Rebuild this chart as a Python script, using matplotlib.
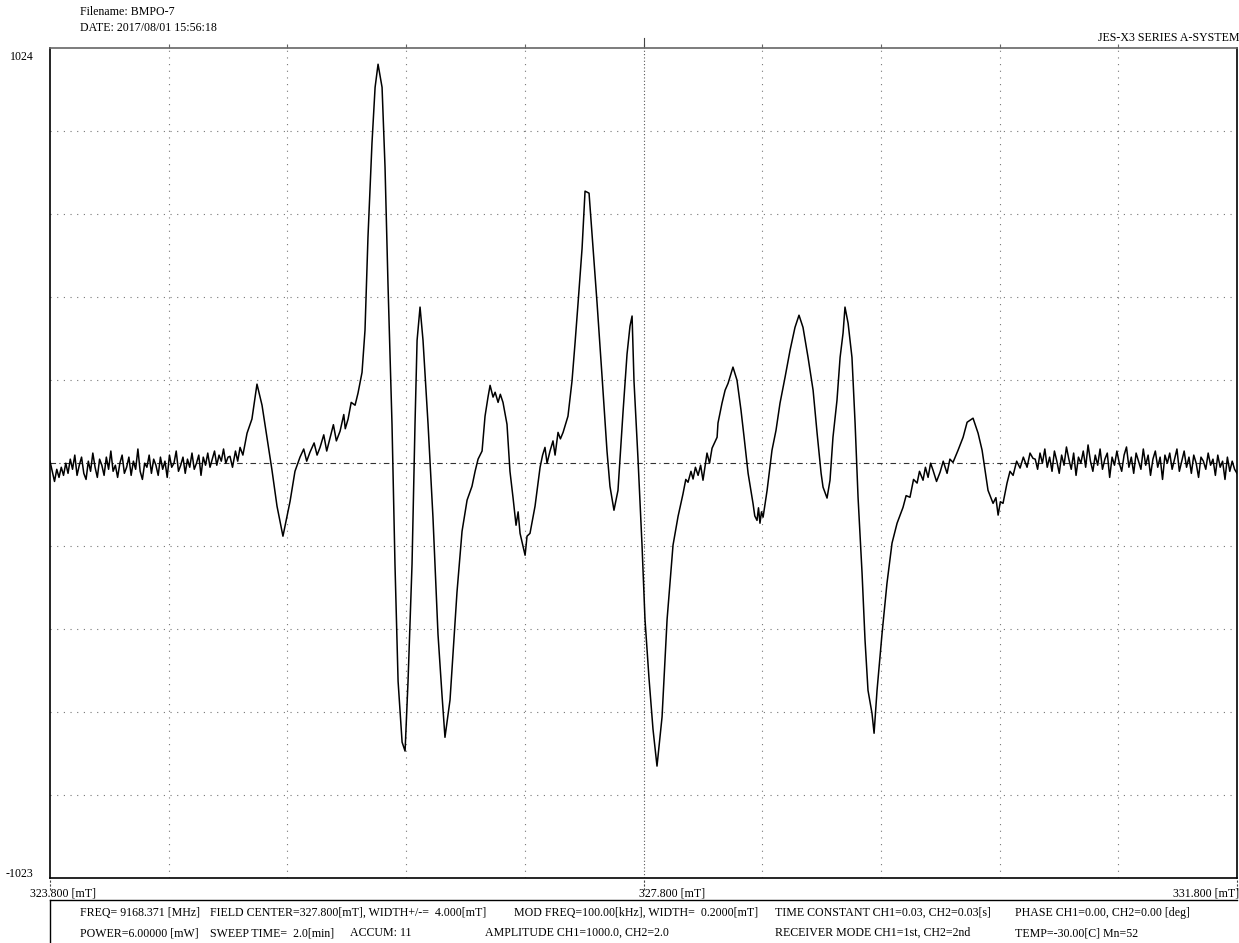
import numpy as np
import matplotlib
matplotlib.use("Agg")
import matplotlib.pyplot as plt
from matplotlib.lines import Line2D
from matplotlib.transforms import blended_transform_factory

plt.rcParams['font.family'] = ['Liberation Serif', 'DejaVu Serif']

campo_ini, campo_fim = 323.800, 331.800
y_min, y_max = -1023, 1024

# ruido da linha de base, esquerda (323.80 - 325.00 mT)
ruido_esq = [5, -20, -45, -15, -35, -10, -30, 0, -25, 10, -15, 20, -30, -5, 15, -25, -40, 5, -20, 25,
             -10, -35, 10, -5, -30, 15, -15, 30, -20, -5, -35, 0, 20, -25, -10, 15, -30, 5, -15, 35,
             -20, -40, 0, -10, 20, -25, 10, -5, -30, 15, -15, 5, -35, 20, -10, 0, 30, -20, -5, 15,
             -25, 10, -10, 25, -15, 0, 20, -30, 15, -5, 25, -10, 10, 30, -5, 20, 5, 35, 0, 15]

# parte do sinal
campo_sinal = [325.013, 325.030, 325.050, 325.065, 325.081, 325.100, 325.128, 325.161, 325.195, 325.229,
               325.263, 325.296, 325.330, 325.370,
               325.418, 325.451, 325.485, 325.510, 325.530, 325.552, 325.580, 325.600, 325.620, 325.645,
               325.665, 325.687, 325.710, 325.730, 325.755, 325.780, 325.790, 325.809, 325.830, 325.856,
               325.876, 325.903, 325.923, 325.943, 325.970, 325.991, 326.011, 326.038, 326.058, 326.078,
               326.105, 326.125, 326.146, 326.173, 326.193, 326.213, 326.240, 326.260, 326.274, 326.294,
               326.314, 326.348, 326.381, 326.415, 326.442, 326.462, 326.496, 326.543, 326.577, 326.611,
               326.644, 326.665, 326.685, 326.712, 326.732, 326.752, 326.766, 326.786, 326.800, 326.820,
               326.835, 326.853, 326.880, 326.900, 326.921, 326.941, 326.955, 326.968, 326.985, 327.002,
               327.015, 327.035, 327.069, 327.103, 327.120, 327.136, 327.150, 327.170, 327.190, 327.204,
               327.224, 327.240, 327.258, 327.291, 327.318, 327.339, 327.359, 327.386, 327.406, 327.433,
               327.460, 327.487, 327.521, 327.554, 327.574, 327.601, 327.628, 327.662, 327.689, 327.709,
               327.723, 327.736, 327.763, 327.790, 327.810, 327.837, 327.864, 327.891, 327.925, 327.959,
               327.999, 328.033, 328.066, 328.085, 328.100, 328.120, 328.134, 328.150, 328.168, 328.185,
               328.201, 328.228, 328.245, 328.262, 328.296, 328.302, 328.329, 328.350, 328.370, 328.403,
               328.430, 328.457, 328.478, 328.505, 328.538, 328.550, 328.565, 328.575, 328.585, 328.595,
               328.606, 328.633, 328.666, 328.693, 328.720, 328.754, 328.788, 328.821, 328.848, 328.875,
               328.909, 328.943, 328.970, 328.997, 329.010, 329.037, 329.057, 329.077, 329.104, 329.125,
               329.145, 329.158, 329.179, 329.205, 329.226, 329.246, 329.273, 329.293, 329.313, 329.340,
               329.354, 329.374, 329.408, 329.441, 329.475, 329.509, 329.549, 329.570, 329.596, 329.620,
               329.644, 329.660, 329.684, 329.700, 329.718, 329.735, 329.751, 329.775, 329.799, 329.820,
               329.846, 329.865, 329.886, 329.920, 329.954, 329.981, 330.021, 330.055, 330.082, 330.102,
               330.122, 330.156, 330.175, 330.190, 330.205, 330.223, 330.250, 330.270, 330.291, 330.315,
               330.338, 330.360, 330.385, 330.405, 330.425]
sinal = [17, -10, 30, 5, 39, 20, 74, 109, 195, 143,
         62, -17, -106, -180,
         -94, -20, 15, 35, 5, 27, 50, 20, 39, 70,
         30, 62, 95, 55, 79, 120, 85, 109, 150, 143,
         173, 224, 328, 557, 789, 927, 984, 927, 730, 441,
         96, -249, -538, -688, -710, -538, -249, 96, 303, 385,
         303, 96, -133, -422, -572, -676, -584, -318, -168, -91,
         -57, -20, 10, 30, 116, 163, 192, 163, 175, 150,
         170, 150, 96, -20, -86, -153, -120, -173, -200, -227,
         -180, -173, -106, -10, 20, 39, 0, 30, 55, 20,
         76, 60, 76, 116, 202, 298, 395, 530, 671, 666,
         530, 395, 212, 30, -57, -116, -67, 126, 269, 338,
         363, 202, 10, -202, -385, -530, -656, -747, -626, -385,
         -202, -131, -76, -40, -47, -20, -39, -10, -30, -5,
         -42, 25, 0, 37, 64, 99, 148, 180, 197, 237,
         205, 131, 64, -25, -99, -130, -141, -110, -148, -120,
         -133, -67, 32, 81, 148, 212, 279, 335, 365, 335,
         261, 180, 74, -25, -59, -86, -42, 64, 155, 261,
         321, 385, 345, 261, 99, -84, -271, -436, -560, -617,
         -666, -560, -419, -296, -197, -148, -109, -80, -84, -40,
         -49, -20, -42, -10, -35, 0, -17, -45, -22, 5,
         -25, 10, 2, 32, 64, 101, 111, 74, 32, -17,
         -67, -99, -85, -128, -95, -99, -49, -20, -30, 5,
         -12, 15, -10, 25, 12]

# ruido da linha de base, direita (330.44 - 331.80 mT)
ruido_dir = [10, -15, 25, 0, 35, -10, 15, -20, 30, 5, -25, 20, -5, 40, 10, -15, 25, -30, 15, 0,
             30, -10, 45, 5, -20, 20, -5, 35, -15, 10, 25, -35, 15, -5, 30, 0, -20, 20, 40, -10,
             15, -25, 25, 5, -15, 35, -5, 20, -30, 10, 30, -10, 15, -40, 20, 0, 25, -15, 10, 35,
             -20, 5, 30, -10, 15, -25, 20, 0, -35, 15, 5, -15, 25, -5, 10, -30, 20, -10, 5, -40,
             15, -20, 5, -15, -25]

campo = np.concatenate([np.linspace(323.80, 325.00, len(ruido_esq)),
                        campo_sinal,
                        np.linspace(330.44, 331.80, len(ruido_dir))])
intensidade = np.concatenate([ruido_esq, sinal, ruido_dir])

W, H = 1239, 943
fig = plt.figure(figsize=(W / 100, H / 100), dpi=100)
fig.patch.set_facecolor('white')

# eixo na mesma posicao do original (em pixels)
esq, dir_, topo, base = 50, 1237, 48, 878
ax = fig.add_axes([esq / W, 1 - base / H, (dir_ - esq) / W, (base - topo) / H])
ax.set_xlim(campo_ini, campo_fim)
ax.set_ylim(y_min, y_max)

# grade pontilhada
grade_x = np.linspace(campo_ini, campo_fim, 11)[1:-1]
grade_y = np.linspace(y_min, y_max, 11)[1:-1]
for gx in grade_x:
    if abs(gx - 327.8) < 1e-6:
        ax.axvline(gx, color='#555555', lw=0.8, ls=(0, (1, 2)), zorder=1)
    else:
        ax.axvline(gx, color='#777777', lw=0.8, ls=(0, (1, 5)), zorder=1)
for gy in grade_y:
    if abs(gy) < 2:
        ax.axhline(0, color='#333333', lw=0.8, ls=(0, (5, 3, 1, 3)), zorder=1)
    else:
        ax.axhline(gy, color='#777777', lw=0.8, ls=(0, (1, 5)), zorder=1)

ax.plot(campo, intensidade, color='black', lw=1.1, zorder=3)

for lado in ['left', 'right', 'bottom']:
    ax.spines[lado].set_color('black')
    ax.spines[lado].set_linewidth(1.2)
ax.spines['top'].set_color('#666666')
ax.spines['top'].set_linewidth(1.2)

# pequenas marcas no topo
ax.set_xticks(grade_x)
ax.set_xticklabels([])
ax.set_yticks([])
ax.tick_params(axis='x', which='both', bottom=False, top=True, direction='out',
               length=3, color='#666666', width=0.8)

# marcas tracejadas em baixo (inicio, centro, fim)
trans = blended_transform_factory(ax.transData, ax.transAxes)
for bx in [campo_ini, 327.8, campo_fim]:
    ax.plot([bx, bx], [-0.002, -0.016], transform=trans, color='#444444', lw=0.8,
            ls=(0, (2, 1.5)), clip_on=False)
ax.plot([327.8, 327.8], [1.002, 1.012], transform=trans, color='#444444', lw=0.8, clip_on=False)

def px(x, y):
    return x / W, 1 - y / H

fs = 8.6
fig.text(*px(80, 12), 'Filename: BMPO-7', fontsize=fs, va='center', ha='left')
fig.text(*px(80, 28), 'DATE: 2017/08/01 15:56:18', fontsize=fs, va='center', ha='left')
fig.text(*px(1239, 38), 'JES-X3 SERIES A-SYSTEM', fontsize=fs, va='center', ha='right')
fig.text(*px(10, 57), str(y_max), fontsize=fs, va='center', ha='left')
fig.text(*px(6, 874), str(y_min), fontsize=fs, va='center', ha='left')
fig.text(*px(30, 893), '323.800 [mT]', fontsize=fs, va='center', ha='left')
fig.text(*px(639, 893), '327.800 [mT]', fontsize=fs, va='center', ha='left')
fig.text(*px(1239, 893), '331.800 [mT]', fontsize=fs, va='center', ha='right')

# caixa das condicoes de medida
fig.add_artist(Line2D([50 / W, 1237 / W], [1 - 900 / H, 1 - 900 / H], color='black', lw=1.0))
fig.add_artist(Line2D([50 / W, 50 / W], [1 - 900 / H, 0], color='black', lw=1.0))

linha1 = [(80, 'FREQ= 9168.371 [MHz]'),
          (210, 'FIELD CENTER=327.800[mT], WIDTH+/-=  4.000[mT]'),
          (514, 'MOD FREQ=100.00[kHz], WIDTH=  0.2000[mT]'),
          (775, 'TIME CONSTANT CH1=0.03, CH2=0.03[s]'),
          (1015, 'PHASE CH1=0.00, CH2=0.00 [deg]')]
linha2 = [(80, 'POWER=6.00000 [mW]'),
          (210, 'SWEEP TIME=  2.0[min]'),
          (350, 'ACCUM: 11'),
          (485, 'AMPLITUDE CH1=1000.0, CH2=2.0'),
          (775, 'RECEIVER MODE CH1=1st, CH2=2nd'),
          (1015, 'TEMP=-30.00[C] Mn=52')]
for x, t in linha1:
    fig.text(*px(x, 913), t, fontsize=fs, va='center', ha='left')
for x, t in linha2:
    fig.text(*px(x, 933), t, fontsize=fs, va='center', ha='left')

fig.savefig('out.png', dpi=100)
